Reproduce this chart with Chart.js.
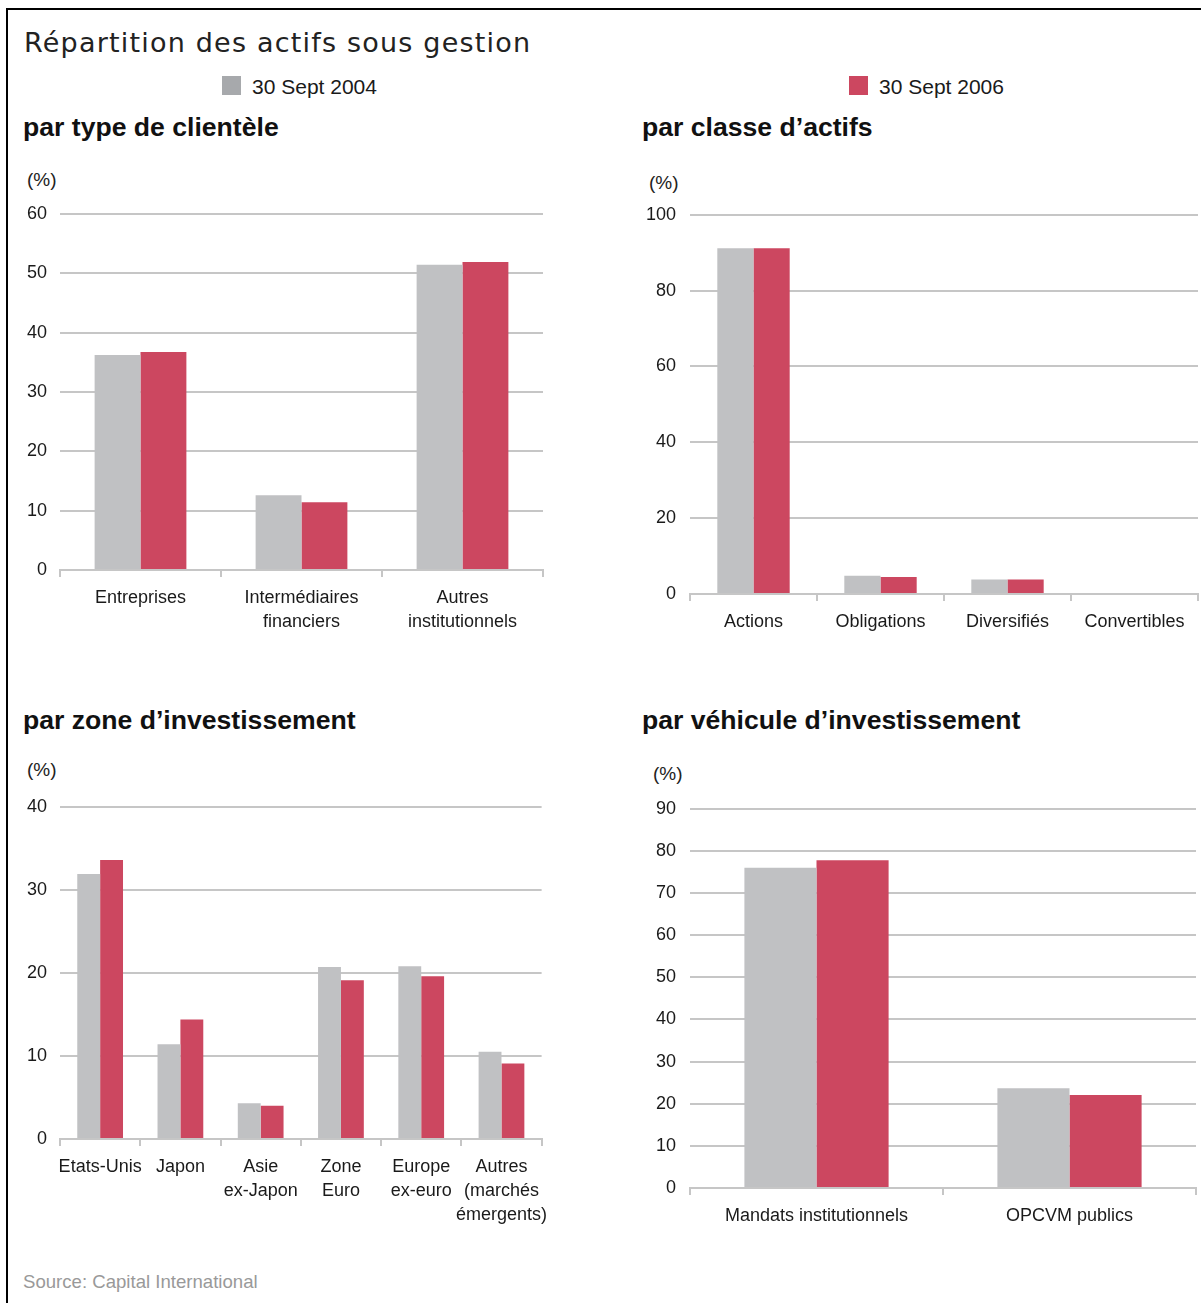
<!DOCTYPE html>
<html lang="fr">
<head>
<meta charset="utf-8">
<title>Répartition des actifs sous gestion</title>
<script src="https://cdn.jsdelivr.net/npm/chart.js@4"></script>
<style>
  html, body { margin: 0; padding: 0; background: #fff; }
  body { width: 1201px; height: 1303px; position: relative; overflow: hidden;
         font-family: "Liberation Sans", Arial, sans-serif; color: #1a1a1a; }
  .frame { position: absolute; left: 6px; top: 8px; width: 1200px; height: 1300px;
           border-top: 2px solid #000; border-left: 2px solid #000; }
  .abs { position: absolute; white-space: nowrap; line-height: 1; }
  .title { font-family: "DejaVu Sans", sans-serif; font-size: 27px; left: 24px; top: 29px; color: #222; letter-spacing: 1.2px; }
  .leg { font-size: 21px; top: 76px; }
  .sq { position: absolute; width: 19px; height: 19px; top: 76px; }
  .sub { font-weight: bold; font-size: 26.6px; color: #111; }
  .pct { font-size: 19px; color: #222; }
  .src { font-size: 18.6px; color: #999; left: 23px; top: 1273px; }
  .cv { position: absolute; }
</style>
</head>
<body>
<div class="frame"></div>
<div class="abs title">Répartition des actifs sous gestion</div>

<div class="sq" style="left:222px;background:#a7a9ac"></div>
<div class="abs leg" style="left:252px">30 Sept 2004</div>
<div class="sq" style="left:849px;background:#cc4760"></div>
<div class="abs leg" style="left:879px">30 Sept 2006</div>

<div class="abs sub" style="left:23px;top:114px">par type de clientèle</div>
<div class="abs sub" style="left:642px;top:114px">par classe d’actifs</div>
<div class="abs sub" style="left:23px;top:707px">par zone d’investissement</div>
<div class="abs sub" style="left:642px;top:707px">par véhicule d’investissement</div>

<div class="abs pct" style="left:27px;top:170px">(%)</div>
<div class="abs pct" style="left:649px;top:173px">(%)</div>
<div class="abs pct" style="left:27px;top:760px">(%)</div>
<div class="abs pct" style="left:653px;top:764px">(%)</div>

<div class="cv" style="left:10px;top:190px;width:540px;height:451px"><canvas id="c1"></canvas></div>
<div class="cv" style="left:630px;top:190px;width:571px;height:451px"><canvas id="c2"></canvas></div>
<div class="cv" style="left:10px;top:783px;width:546px;height:451px"><canvas id="c3"></canvas></div>
<div class="cv" style="left:630px;top:784px;width:571px;height:449px"><canvas id="c4"></canvas></div>

<div class="abs src">Source: Capital International</div>

<script>
// ---- Data ----
const seriesNames = ['30 Sept 2004', '30 Sept 2006'];

const clientCategories = ['Entreprises', ['Intermédiaires', 'financiers'], ['Autres', 'institutionnels']];
const client2004 = [36.2, 12.6, 51.4];
const client2006 = [36.7, 11.4, 51.9];
const clientTicks = [0, 10, 20, 30, 40, 50, 60];

const assetCategories = ['Actions', 'Obligations', 'Diversifiés', 'Convertibles'];
const asset2004 = [91.2, 4.8, 3.8, 0];
const asset2006 = [91.2, 4.5, 3.8, 0];
const assetTicks = [0, 20, 40, 60, 80, 100];

const zoneCategories = ['Etats-Unis', 'Japon', ['Asie', 'ex-Japon'], ['Zone', 'Euro'], ['Europe', 'ex-euro'], ['Autres', '(marchés', 'émergents)']];
const zone2004 = [31.9, 11.4, 4.3, 20.7, 20.8, 10.5];
const zone2006 = [33.6, 14.4, 4.0, 19.1, 19.6, 9.1];
const zoneTicks = [0, 10, 20, 30, 40];

const vehicleCategories = ['Mandats institutionnels', 'OPCVM publics'];
const vehicle2004 = [76.0, 23.7];
const vehicle2006 = [77.8, 22.1];
const vehicleTicks = [0, 10, 20, 30, 40, 50, 60, 70, 80, 90];

// ---- Styles ----
const GREY = '#c0c1c3';
const RED = '#cc4760';
const GRID = '#c6c6c6';
const FONT = '"Liberation Sans", Arial, sans-serif';

function makeChart(id, labels, d1, d2, ticks, cfg) {
  const step = ticks[1] - ticks[0];
  return new Chart(document.getElementById(id), {
    type: 'bar',
    data: {
      labels: labels,
      datasets: [
        { label: seriesNames[0], data: d1, backgroundColor: GREY, borderWidth: 0 },
        { label: seriesNames[1], data: d2, backgroundColor: RED, borderWidth: 0 }
      ]
    },
    options: {
      responsive: true,
      maintainAspectRatio: false,
      animation: false,
      events: [],
      layout: { padding: { left: 0, right: cfg.padRight, top: cfg.padTop, bottom: 0 } },
      datasets: { bar: { categoryPercentage: 0.57, barPercentage: 1.0 } },
      plugins: { legend: { display: false }, tooltip: { enabled: false }, title: { display: false } },
      scales: {
        x: {
          offset: true,
          grid: { display: true, offset: true, drawOnChartArea: false, drawTicks: true,
                  tickLength: 7, color: GRID, lineWidth: 2 },
          border: { display: true, color: GRID, width: 2 },
          ticks: { color: '#1a1a1a', font: { family: FONT, size: 18, lineHeight: 1.33 },
                   padding: 9, maxRotation: 0, minRotation: 0, autoSkip: false },
          afterFit: (s) => { s.height = cfg.xHeight; }
        },
        y: {
          min: ticks[0], max: ticks[ticks.length - 1],
          grid: { color: GRID, lineWidth: 2, drawTicks: false },
          border: { display: false },
          ticks: { stepSize: step, color: '#1a1a1a', font: { family: FONT, size: 18 }, padding: cfg.yPad },
          afterFit: (s) => { s.width = cfg.yWidth; }
        }
      }
    }
  });
}

makeChart('c1', clientCategories, client2004, client2006, clientTicks,
  { padRight: 7, padTop: 13, xHeight: 71, yWidth: 50, yPad: 13 });
makeChart('c2', assetCategories, asset2004, asset2006, assetTicks,
  { padRight: 3, padTop: 13, xHeight: 47, yWidth: 60, yPad: 14 });
makeChart('c3', zoneCategories, zone2004, zone2006, zoneTicks,
  { padRight: 0, padTop: 13, xHeight: 95, yWidth: 50, yPad: 13 });
makeChart('c4', vehicleCategories, vehicle2004, vehicle2006, vehicleTicks,
  { padRight: 5, padTop: 13, xHeight: 45, yWidth: 60, yPad: 14 });
</script>
</body>
</html>
